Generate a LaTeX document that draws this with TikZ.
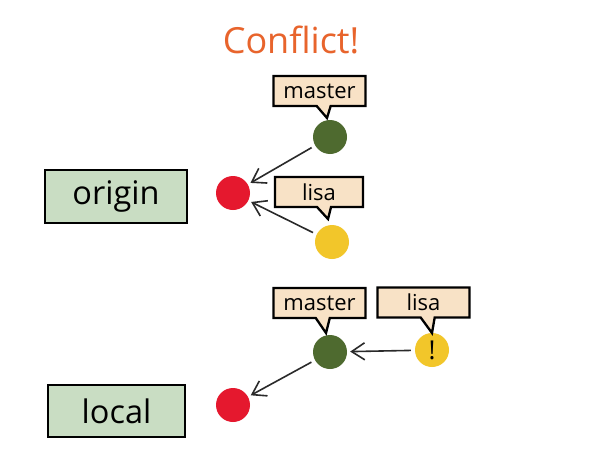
\documentclass[tikz,border=0pt]{standalone}
\usepackage{fontspec}
\setmainfont{Open Sans}
\usetikzlibrary{arrows.meta,shapes.callouts}
\definecolor{titleorange}{HTML}{E8642C}
\definecolor{repogreen}{HTML}{C9DDC3}
\definecolor{tagbeige}{HTML}{F8E2C6}
\definecolor{commitred}{HTML}{E5182E}
\definecolor{commitgreen}{HTML}{4E6A2F}
\definecolor{commityellow}{HTML}{F2C62A}
\definecolor{arrowgray}{HTML}{2A2A2A}
\tikzset{
  repobox/.style={draw=black, line width=2.5pt, fill=repogreen, inner sep=0pt,
    font=\fontsize{32.5}{38}\selectfont},
  tag/.style={rectangle callout, draw=black, line width=2.3pt, fill=tagbeige,
    inner sep=0pt, minimum width=92pt, minimum height=30pt,
    callout pointer width=14pt, font=\fontsize{22}{26}\selectfont},
  commit/.style={circle, minimum size=34pt, inner sep=0pt},
  arr/.style={draw=arrowgray, line width=1.6pt,
    -{Straight Barb[length=13pt,width=17pt,line width=1.6pt]},
    shorten >=3pt, shorten <=4pt}
}
\begin{document}
\begin{tikzpicture}[x=1pt,y=-1pt]
\useasboundingbox[fill=white] (0,0) rectangle (614,474);

% heading
\node[text=titleorange, font=\fontsize{36}{42}\selectfont] (title) at (291,40) {Conflict!};

% repositories
\node[repobox, minimum width=142pt, minimum height=53pt] (origin) at (116,196.5) {origin};
\node[repobox, minimum width=137pt, minimum height=52pt] (local) at (116.5,411) {local};

% commits on origin
\node[commit, fill=commitred] (oroot) at (233,193) {};
\node[commit, fill=commitgreen] (omaster) at (330,137) {};
\node[commit, fill=commityellow] (olisa) at (332,242) {};

% commits on local
\node[commit, fill=commitred] (lroot) at (233,405) {};
\node[commit, fill=commitgreen] (lmaster) at (330,352) {};
\node[commit, fill=commityellow, font=\fontsize{26}{30}\selectfont] (llisa) at (432,350) {!};

% branch labels
\coordinate (tipom) at (327,118);
\coordinate (tipol) at (328,219);
\coordinate (siplm) at (326,333);
\coordinate (tipll) at (432,333);
\node[tag, callout absolute pointer={(tipom)}] (tagom) at (319.5,91) {master};
\node[tag, minimum width=88pt, callout absolute pointer={(tipol)}] (tagol) at (319,192) {lisa};
\node[tag, callout absolute pointer={(siplm)}] (taglm) at (319.5,303) {master};
\node[tag, callout absolute pointer={(tipll)}] (tagll) at (423.5,302.5) {lisa};

% parent links
\draw[arr] (omaster) -- (oroot);
\draw[arr] (olisa) -- (oroot);
\draw[arr] (lmaster) -- (lroot);
\draw[arr] (llisa) -- (lmaster);
\end{tikzpicture}
\end{document}
